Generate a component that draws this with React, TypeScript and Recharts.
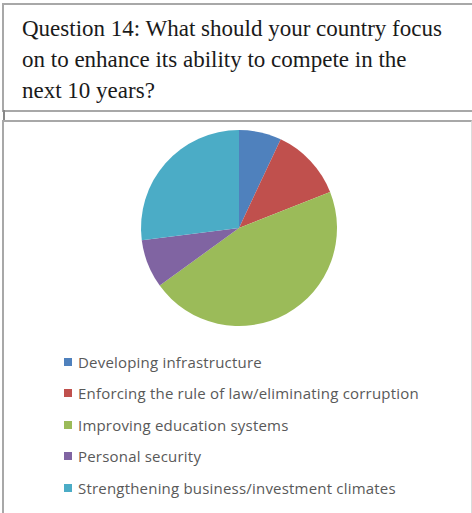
import React from 'react';
import { PieChart, Pie, Cell, Legend } from 'recharts';

const categories = [
  'Developing infrastructure',
  'Enforcing the rule of law/eliminating corruption',
  'Improving education systems',
  'Personal security',
  'Strengthening business/investment climates',
];
const shares = [7, 12, 46, 8, 27];
const colors = ['#4F81BD', '#C0504D', '#9BBB59', '#8064A2', '#4BACC6'];
const titleLines = [
  'Question 14: What should your country focus',
  'on to enhance its ability to compete in the',
  'next 10 years?',
];

const data = categories.map((name, i) => ({ name, value: shares[i] }));

const renderLegend = (props: any) => {
  const { payload } = props;
  return (
    <div>
      {(payload || []).map((entry: any, i: number) => (
        <div
          key={i}
          style={{ display: 'flex', alignItems: 'center', height: 31.5, whiteSpace: 'nowrap' }}
        >
          <span
            style={{ width: 8, height: 8, background: entry.color, marginRight: 6, display: 'inline-block' }}
          />
          <span
            style={{ color: '#595959', fontSize: 15, letterSpacing: 0.2, fontFamily: 'Open Sans, sans-serif' }}
          >
            {entry.value}
          </span>
        </div>
      ))}
    </div>
  );
};

export default function App() {
  const border = '#a8a8a8';
  return (
    <div style={{ position: 'absolute', top: 0, left: 0, width: 472, height: 513, background: '#fff', overflow: 'hidden' }}>
      {/* question box */}
      <div
        style={{
          position: 'absolute',
          top: 3,
          left: 2,
          width: 480,
          height: 105,
          borderTop: `2px solid ${border}`,
          borderLeft: `2px solid ${border}`,
          borderBottom: `2px solid ${border}`,
        }}
      />
      <div
        style={{
          position: 'absolute',
          top: 13,
          left: 22,
          fontFamily: '"Liberation Serif", serif',
          fontSize: 23,
          lineHeight: '31px',
          color: '#1a1a1a',
          whiteSpace: 'nowrap',
        }}
      >
        {titleLines.map((t, i) => (
          <div key={i}>{t}</div>
        ))}
      </div>
      <div style={{ position: 'absolute', top: 110, left: 3, width: 2, height: 11, background: '#888' }} />
      {/* chart box */}
      <div
        style={{
          position: 'absolute',
          top: 120,
          left: 2,
          width: 467,
          height: 400,
          borderTop: `2px solid ${border}`,
          borderLeft: `2px solid ${border}`,
          borderRight: '1px solid #dcdcdc',
        }}
      />
      <div style={{ position: 'absolute', top: 122, left: 4 }}>
        <PieChart width={466} height={391} margin={{ top: 0, right: 0, bottom: 0, left: 0 }}>
          <Pie
            data={data}
            dataKey="value"
            nameKey="name"
            cx={235}
            cy={106}
            outerRadius={98}
            startAngle={90}
            endAngle={-270}
            stroke="none"
            isAnimationActive={false}
          >
            {data.map((_, i) => (
              <Cell key={i} fill={colors[i]} />
            ))}
          </Pie>
          <Legend
            layout="horizontal"
            verticalAlign="bottom"
            align="left"
            content={renderLegend}
            wrapperStyle={{ position: 'absolute', top: 224, left: 60, width: 400 }}
          />
        </PieChart>
      </div>
    </div>
  );
}
